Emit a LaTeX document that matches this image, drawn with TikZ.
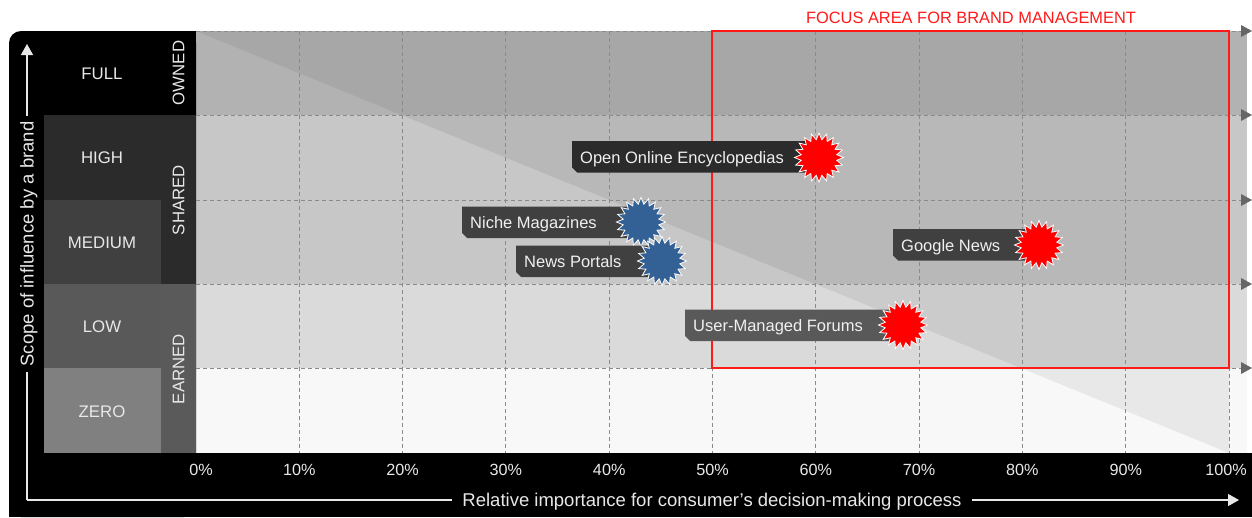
\documentclass[tikz,border=0pt]{standalone}
\usepackage{fontspec}
\setmainfont{Liberation Sans}
\usetikzlibrary{arrows.meta,shapes.geometric}
\definecolor{rAL}{HTML}{B2B2B2}\definecolor{rAD}{HTML}{A7A7A7}
\definecolor{rBL}{HTML}{C7C7C7}\definecolor{rBD}{HTML}{B8B8B8}
\definecolor{rCL}{HTML}{DADADA}\definecolor{rCD}{HTML}{CBCBCB}
\definecolor{rDL}{HTML}{F8F8F8}\definecolor{rDD}{HTML}{E8E8E8}
\definecolor{lvHigh}{HTML}{2B2B2B}\definecolor{lvMed}{HTML}{404040}
\definecolor{lvLow}{HTML}{595959}\definecolor{lvZero}{HTML}{808080}
\definecolor{catEarn}{HTML}{5A5A5A}
\definecolor{gridc}{HTML}{8A8A8A}\definecolor{tipc}{HTML}{666666}
\definecolor{labc}{HTML}{E8E8E8}
\definecolor{burstred}{HTML}{FF0000}\definecolor{burstblue}{RGB}{51,97,150}
\definecolor{focusred}{HTML}{FF1A1A}
\begin{document}
\begin{tikzpicture}[x=1pt,y=-1pt,
  gridline/.style={draw=gridc,line width=1pt,dash pattern=on 4pt off 3pt},
  lab/.style={text=labc,inner sep=0pt,font=\fontsize{16.8pt}{19pt}\selectfont},
  pct/.style={text=labc,inner sep=0pt,font=\fontsize{16.2pt}{19pt}\selectfont},
  axlab/.style={text=labc,inner sep=0pt,font=\fontsize{18.5pt}{21pt}\selectfont},
  axline/.style={draw=labc,line width=1.3pt},
  ctext/.style={text=white!94!black,inner sep=0pt,anchor=base west,font=\fontsize{16.5pt}{19pt}\selectfont},
  burst/.style={star,star points=20,star point ratio=1.36,minimum size=49pt,inner sep=0pt,draw=white,line width=0.8pt}]
\useasboundingbox (0,0) rectangle (1252,517);
\fill[white] (0,0) rectangle (1252,517);
% plot rows with diagonal shading
\foreach \ya/\yb/\cl/\cd in {31/115/rAL/rAD,115/284/rBL/rBD,284/368/rCL/rCD,368/453/rDL/rDD}{
  \begin{scope}
    \clip (196,\ya) rectangle (1247,\yb);
    \fill[\cl] (196,\ya) rectangle (1247,\yb);
    \fill[\cd] (196,31) -- (1229,31) -- (1229,453) -- cycle;
  \end{scope}
}
% black panel
\fill[black,rounded corners=12pt] (9,31) rectangle (196,517);
\fill[black] (60,31) rectangle (196,517);
\fill[black] (9,200) rectangle (196,517);
\fill[black] (9,453) rectangle (1252,517);
% level cells
\fill[lvHigh] (44,115) rectangle (161,200);
\fill[lvMed] (44,200) rectangle (161,284);
\fill[lvLow] (44,284) rectangle (161,368);
\fill[lvZero] (44,368) rectangle (161,453);
% category cells
\fill[lvHigh] (161,115) rectangle (196,284);
\fill[catEarn] (161,284) rectangle (196,453);
% grid
\foreach \i in {1,...,10}
  \draw[gridline] ({196+103.3*\i},31) -- ({196+103.3*\i},453);
\foreach \y in {31,115,200,284,368}{
  \draw[gridline] (196,\y) -- (1242,\y);
  \fill[tipc] (1241,\y-6) -- (1252,\y) -- (1241,\y+6) -- cycle;
}
% focus rectangle
\draw[focusred,line width=1.2pt] (712,31) rectangle (1229,368);
\node[text=focusred,inner sep=0pt,font=\fontsize{16.4pt}{19pt}\selectfont] (focus) at (971,18) {FOCUS AREA FOR BRAND MANAGEMENT};
% level labels
\node[lab] (full) at (102,74) {FULL};
\node[lab] (high) at (102,158) {HIGH};
\node[lab] (medium) at (102,242.5) {MEDIUM};
\node[lab] (low) at (102,327) {LOW};
\node[lab] (zero) at (102,411.5) {ZERO};
\node[lab,rotate=90] (owned) at (178.5,73) {OWNED};
\node[lab,rotate=90] (shared) at (178.5,200) {SHARED};
\node[lab,rotate=90] (earned) at (178.5,369) {EARNED};
% percent labels
\node[pct] (p0) at (201,470) {0\%};
\foreach \i/\t in {1/10,2/20,3/30,4/40,5/50,6/60,7/70,8/80,9/90}
  \node[pct] (p\i) at ({196+103.3*\i},470) {\t\%};
\node[pct] (p10) at (1226,470) {100\%};
% axes
\coordinate (corner) at (27,500);
\coordinate (ytop) at (27,44);
\coordinate (xend) at (1239,500);
\node[axlab,anchor=base] (xlab) at (712,506.5) {Relative importance for consumer's decision-making process};
\node[axlab,anchor=base,rotate=90] (ylab) at (33.6,244) {Scope of influence by a brand};
\draw[axline] (corner) -- (27,372);
\draw[axline] (corner) -- (452,500);
\draw[axline,-{Triangle[length=11pt,width=12pt]}] (27,116) -- (ytop);
\draw[axline,-{Triangle[length=11pt,width=12pt]}] (972,500) -- (xend);
% callouts
\fill[lvHigh] (572,141) -- (819,141) -- (819,172.5) -- (577,172.5) -- (572,167.5) -- cycle;
\node[ctext] (t1) at (580,163) {Open Online Encyclopedias};
\node[burst,fill=burstred] (s1) at (819,157.5) {};
\fill[lvMed] (462,206.5) -- (641,206.5) -- (641,238) -- (467,238) -- (462,233) -- cycle;
\node[ctext] (t2) at (470,228.5) {Niche Magazines};
\node[burst,fill=burstblue] (s2) at (641,222) {};
\fill[lvMed] (516,245.5) -- (662,245.5) -- (662,277) -- (521,277) -- (516,272) -- cycle;
\node[ctext] (t3) at (524,267.5) {News Portals};
\node[burst,fill=burstblue] (s3) at (662,261) {};
\fill[lvMed] (893,229) -- (1039,229) -- (1039,260.5) -- (898,260.5) -- (893,255.5) -- cycle;
\node[ctext] (t4) at (901,251) {Google News};
\node[burst,fill=burstred] (s4) at (1039,245) {};
\fill[lvLow] (685,309.5) -- (903,309.5) -- (903,341) -- (690,341) -- (685,336) -- cycle;
\node[ctext] (t5) at (693,331.5) {User-Managed Forums};
\node[burst,fill=burstred] (s5) at (903,325) {};
\end{tikzpicture}
\end{document}
